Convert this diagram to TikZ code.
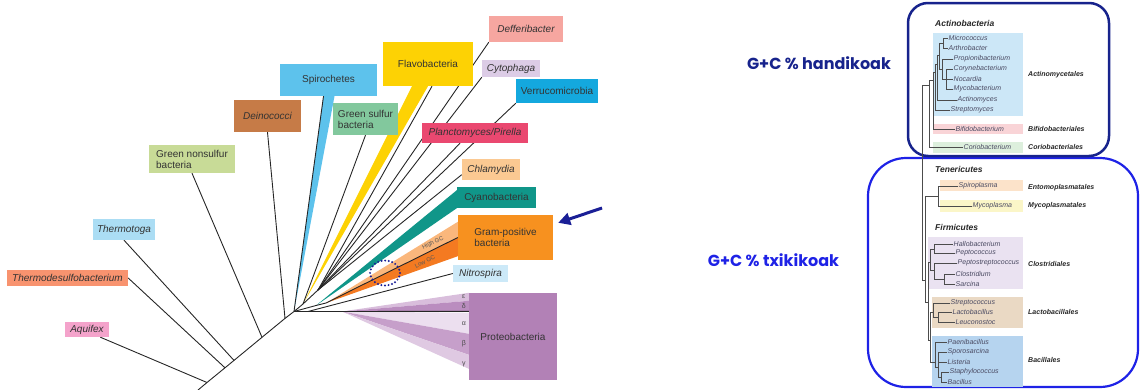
\documentclass[tikz,border=0pt]{standalone}
\usepackage{fontspec}
\setmainfont{Liberation Sans}
\newfontfamily\gothic{Poppins}
\usetikzlibrary{arrows.meta,calc,backgrounds}

\definecolor{cAqu}{HTML}{F4A3CB}
\definecolor{cTds}{HTML}{F8936F}
\definecolor{cTto}{HTML}{ABDDF4}
\definecolor{cGns}{HTML}{C8DB97}
\definecolor{cDei}{HTML}{C67B47}
\definecolor{cSpi}{HTML}{5DC2EC}
\definecolor{cGsb}{HTML}{82C89D}
\definecolor{cFla}{HTML}{FDD204}
\definecolor{cDef}{HTML}{F6A6A0}
\definecolor{cCyt}{HTML}{DCCCE6}
\definecolor{cVer}{HTML}{14A8DE}
\definecolor{cPla}{HTML}{EA4870}
\definecolor{cChl}{HTML}{FBC992}
\definecolor{cCya}{HTML}{109689}
\definecolor{cGra}{HTML}{F7911F}
\definecolor{cHig}{HTML}{FAB77C}
\definecolor{cLow}{HTML}{F47A21}
\definecolor{cNit}{HTML}{CCE9F8}
\definecolor{cPro}{HTML}{B281B6}
\definecolor{cEps}{HTML}{D9BEDC}
\definecolor{cDel}{HTML}{BA8DBF}
\definecolor{cAlp}{HTML}{ECDFEF}
\definecolor{cBet}{HTML}{C69FCA}
\definecolor{cGam}{HTML}{DFC9E2}
\definecolor{cNavy}{HTML}{1A1F96}
\definecolor{cFrA}{HTML}{17238C}
\definecolor{cFrB}{HTML}{1E22E6}
\definecolor{cSp}{HTML}{4A4A62}
\definecolor{bActi}{HTML}{CCE7F7}
\definecolor{bBifi}{HTML}{F9D4D7}
\definecolor{bCori}{HTML}{DDEFDD}
\definecolor{bSpir}{HTML}{FCE3CA}
\definecolor{bMyco}{HTML}{FBF6C8}
\definecolor{bClos}{HTML}{EAE2F1}
\definecolor{bLact}{HTML}{EAD9C4}
\definecolor{bBaci}{HTML}{B6D4EF}

\begin{document}
\begin{tikzpicture}[x=1pt, y=-1pt, font=\fontsize{10}{11}\selectfont,
  lbl/.style={fill=#1, text=black!80, inner sep=1pt, align=left},
  br/.style={line width=0.9pt, black!85},
  tr/.style={line width=0.5pt, black!70},
  grk/.style={font=\fontsize{7}{7}\selectfont, text=black!70, inner sep=0pt},
  gc/.style={font=\fontsize{6}{6}\selectfont, text=black!65, inner sep=0pt, rotate=26},
  sp/.style={font=\fontsize{7}{7}\selectfont\itshape, text=cSp, inner sep=0.5pt, anchor=west},
  ord/.style={font=\fontsize{7}{7}\selectfont\bfseries\itshape, text=black!85, inner sep=0pt, anchor=west},
  grp/.style={font=\fontsize{8.5}{9}\selectfont\bfseries\itshape, text=black!85, inner sep=0pt, anchor=west},
  gcfont/.style={font=\gothic\bfseries\fontsize{16}{17}\selectfont, inner sep=0pt},
  arr/.style={-{Triangle[length=12pt,width=12pt]}, line width=3pt, cNavy}]
\useasboundingbox (0,0) rectangle (1141,389);

\foreach \n/\x/\y/\bw/\bh/\col/\lab in {
  aqu/87/329.5/44/15/cAqu/\itshape Aquifex,
  tds/67.5/278/121/16/cTds/\itshape Thermodesulfobacterium,
  tto/124/229.5/62/21/cTto/\itshape Thermotoga,
  gns/192/159/86/28/cGns/Green nonsulfur\\bacteria,
  dei/267.5/116/67/32/cDei/\itshape Deinococci,
  spi/328.5/80/97/32/cSpi/Spirochetes,
  gsb/365.5/119/65/32/cGsb/Green sulfur\\bacteria,
  fla/428/64/90/44/cFla/Flavobacteria,
  def/526/29/74/26/cDef/\itshape Defferibacter,
  cyt/511/68.5/58/17/cCyt/\itshape Cytophaga,
  ver/557/91/82/24/cVer/Verrucomicrobia,
  pla/475/133/106/20/cPla/{\itshape Planctomyces/Pirella},
  chl/491/169.5/58/21/cChl/\itshape Chlamydia,
  cya/496.5/197.5/79/21/cCya/Cyanobacteria,
  gra/505.5/237.5/95/45/cGra/Gram-positive\\bacteria,
  nit/480.5/273.5/55/17/cNit/\itshape Nitrospira,
  pro/513/336.5/88/87/cPro/Proteobacteria}
  \node[lbl=\col, minimum width=\bw, minimum height=\bh] (\n) at (\x,\y) {\lab};

\foreach \n/\x/\y in {rb/198/390, jAq/207/382.5, jTd/225/367.8, jTt/234/360.4,
  jGn/262/337.3, jDe/285/318.4, h0/294/311.5, h1/303/304, h2/318/290,
  tc/316/305.5, h3/326/303, jNi/308/311.5, jPr/342/311.5}
  \coordinate (\n) at (\x,\y);

\begin{scope}[on background layer]
\fill[cSpi] (h0) -- ($(spi.south)+(-5,0)$) -- ($(spi.south)+(6,0)$) -- cycle;
\fill[cFla] (h1) -- ($(fla.south)+(-16,0)$) -- (fla.south) -- cycle;
\fill[cCya] (tc) -- ($(cya.south west)+(0,-18)$) -- (cya.south west) -- cycle;
\fill[cHig] (h3) -- ($(gra.north west)+(0,7)$) -- (gra.west) -- cycle;
\fill[cLow] (h3) -- (gra.west) -- ($(gra.south west)+(0,-4)$) -- cycle;
\foreach \a/\b/\col in {0/8/cEps, 8/18/cDel, 20/41/cAlp, 41/62/cBet, 62/76/cGam}
  \fill[\col] (jPr) -- ($(pro.north west)+(0,\a)$) -- ($(pro.north west)+(0,\b)$) -- cycle;
\draw[br] (rb) -- (jAq) -- (jTd) -- (jTt) -- (jGn) -- (jDe) -- (h0) -- (h1) -- (h2);
\draw[br] (h0) -- (jNi) -- (jPr) -- ($(pro.north west)+(0,18.5)$);
\draw[br] (h0) -- (tc) -- (h3) -- (gra.west);
\draw[br] (h0) -- ($(spi.south)+(-5,0)$);
\draw[br] (h2) -- ($(fla.south)+(4,0)$);
\draw[br] (h2) -- ($(pla.south)+(-15,0)$);
\foreach \a/\b in {jAq/aqu.-30, jTd/tds.east, jTt/tto.south, jGn/gns.south, jDe/dei.south,
  h1/gsb.south, h2/def.south west, h2/cyt.south west, h2/ver.south west, h2/chl.190, jNi/nit.west}
  \draw[br] (\a) -- (\b);
\end{scope}

\foreach \n/\dy/\g in {gEps/4/ε, gDel/13/δ, gAlp/31/α, gBet/51/β, gGam/72/γ}
  \node[grk] (\n) at ($(pro.north west)+(-5,\dy)$) {\g};
\node[gc] (hgc) at (433,243) {High GC};
\node[gc] (lgc) at (425,261.5) {Low GC};
\draw[cNavy, line width=2.2pt, line cap=round, dash pattern=on 0pt off 3.6pt] (385,273) ellipse [x radius=15, y radius=12.5];
\coordinate (gpArr) at (602,208);
\draw[arr] (gpArr) -- ($(gra.north east)+(5,8)$);

\draw[cFrB, line width=2.2pt, rounded corners=38pt] (868,158) rectangle (1138,387);
\draw[cFrA, line width=2.5pt, rounded corners=20pt] (908,3) rectangle (1109,156);
\node[gcfont, text=cFrA] (gcHi) at (819,63.5) {G+C \% handikoak};
\node[gcfont, text=cFrB] (gcLo) at (773.5,260.5) {G+C \% txikikoak};

\foreach \x/\y/\xx/\yy/\col in {933/33/1023/116/bActi, 933/124/1023/134/bBifi,
  933/142/1023/153/bCori, 940/180/1023/191/bSpir, 940/200/1023/212/bMyco,
  928/237/1023/289/bClos, 932/297/1023/328/bLact, 932/336/1023/387/bBaci}
  \fill[\col] (\x,\y) rectangle (\xx,\yy);

\node[grp] (tAct) at (935,23) {Actinobacteria};
\node[grp] (tTen) at (935,169) {Tenericutes};
\node[grp] (tFir) at (935,227) {Firmicutes};
\foreach \n/\y/\lab in {oAct/75/Actinomycetales, oBif/129/Bifidobacteriales,
  oCor/147/Coriobacteriales, oEnt/188/Entomoplasmatales, oMyc/206/Mycoplasmatales,
  oClo/264/Clostridiales, oLac/312/Lactobacillales, oBac/360/Bacillales}
  \node[ord] (\n) at (1028,\y) {\lab};

\foreach \n/\x/\y/\lab in {sMic/948/38/Micrococcus, sArt/948/48/Arthrobacter,
  sPro/953/59/Propionibacterium, sCor/953/69/Corynebacterium, sNoc/953/79/Nocardia,
  sMyc/953/89/Mycobacterium, sAct/957/100/Actinomyces, sStm/950/110/Streptomyces,
  sBif/955/129/Bifidobacterium, sCri/963/147/Coriobacterium,
  sSpi/958/186/Spiroplasma, sMyp/972/206/Mycoplasma,
  sHal/953/244/Hallobacterium, sPep/955/253/Peptococcus, sPst/957/263/Peptostreptococcus,
  sClo/955/274/Clostridium, sSar/955/284/Sarcina,
  sStc/950/303/Streptococcus, sLac/952/312/Lactobacillus, sLeu/955/322/Leuconostoc,
  sPae/947/342/Paenibacillus, sSpo/947/352/Sporosarcina, sLis/947/362/Listeria,
  sSta/949/372/Staphylococcus, sBac/947/382/Bacillus}
  \node[sp] (\n) at (\x,\y) {\lab};

\foreach \n/\x/\y in {R/922/85, aCo/929/85, aBi/933/80, aSt/935/72, aAc/937/64,
  aUp/939/55, aMA/943/43, aPr/942/69, aCN/946/79, B/925/280, T/938/196, F/928/302,
  Cl/930/262, cA/934/249, cB/934/270, cC/944/279, LB/930/340, La/933/312,
  lL/938/317, Ba/935/362, bS/938/367, bSt/941/377}
  \coordinate (\n) at (\x,\y);

\foreach \a/\b in {R/aCo, R/B, aCo/aBi, aCo/sCri, aBi/aSt, aBi/sBif, aSt/aAc, aSt/sStm,
  aAc/aUp, aAc/sAct, aUp/aMA, aUp/aPr, aMA/sMic, aMA/sArt, aPr/sPro, aPr/aCN,
  aCN/sCor, aCN/sNoc, aCN/sMyc, B/T, B/F, T/sSpi, T/sMyp, F/Cl, F/LB, Cl/cA, Cl/cB,
  cA/sHal, cA/sPep, cB/sPst, cB/cC, cC/sClo, cC/sSar, LB/La, LB/Ba, La/sStc, La/lL,
  lL/sLac, lL/sLeu, Ba/sPae, Ba/bS, bS/sSpo, bS/sLis, bS/bSt, bSt/sSta, bSt/sBac}
  \draw[tr] (\a) |- (\b);
\end{tikzpicture}
\end{document}
